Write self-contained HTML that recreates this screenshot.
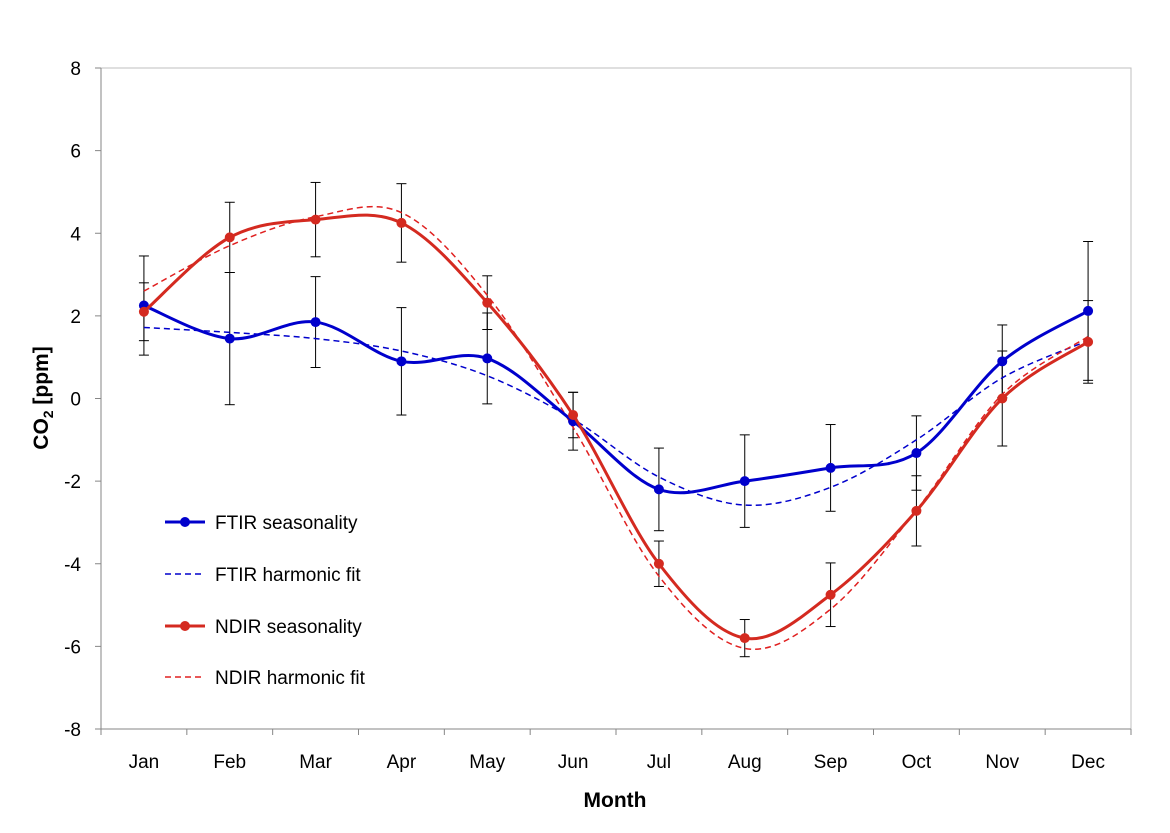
<!DOCTYPE html>
<html><head><meta charset="utf-8"><style>
body{margin:0;background:#fff;font-family:"Liberation Sans",Arial,sans-serif}
svg text{font-family:"Liberation Sans",Arial,sans-serif;fill:#000}
</style></head><body>
<svg id="chart" width="1170" height="828" viewBox="0 0 1170 828" xmlns="http://www.w3.org/2000/svg">
<rect x="101" y="68" width="1030" height="661" fill="#fff" stroke="#bfbfbf" stroke-width="1"/>
<g id="axes"></g>
<g id="series"></g>
<text x="615" y="807" font-size="21" font-weight="bold" text-anchor="middle">Month</text>
<text transform="translate(48,398) rotate(-90)" font-size="21" font-weight="bold" text-anchor="middle">CO<tspan font-size="14" dy="5">2</tspan><tspan dy="-5"> [ppm]</tspan></text>
</svg>
<script>
const months=["Jan","Feb","Mar","Apr","May","Jun","Jul","Aug","Sep","Oct","Nov","Dec"];
const yTicks=[-8,-6,-4,-2,0,2,4,6,8];
const ftir=[2.25,1.45,1.85,0.9,0.97,-0.55,-2.2,-2.0,-1.68,-1.32,0.9,2.12];
const ftirErr=[1.2,1.6,1.1,1.3,1.1,0.7,1.0,1.12,1.05,0.9,0.88,1.68];
const ftirFit=[1.72,1.6,1.45,1.15,0.55,-0.5,-1.9,-2.58,-2.15,-1.0,0.5,1.4];
const ndir=[2.1,3.9,4.33,4.25,2.32,-0.4,-4.0,-5.8,-4.75,-2.72,0.0,1.37];
const ndirErr=[0.7,0.85,0.9,0.95,0.65,0.55,0.55,0.45,0.77,0.85,1.15,1.0];
const ndirFit=[2.6,3.7,4.4,4.5,2.5,-0.7,-4.3,-6.05,-5.1,-2.7,0.1,1.5];

const NS="http://www.w3.org/2000/svg";
const L=101,R=1131,T=68,B=729;
const xs=i=>L+(R-L)/12*(i+0.5);
const ys=v=>B-(v+8)/16*(B-T);
function mk(tag,attrs,parent){const e=document.createElementNS(NS,tag);for(const k in attrs)e.setAttribute(k,attrs[k]);parent.appendChild(e);return e;}
const ax=document.getElementById('axes'),sg=document.getElementById('series');
mk('line',{x1:L,y1:T,x2:L,y2:B,stroke:'#868686'},ax);
mk('line',{x1:L,y1:B,x2:R,y2:B,stroke:'#868686'},ax);
yTicks.forEach(v=>{
 const y=ys(v);
 mk('line',{x1:L-6,y1:y,x2:L,y2:y,stroke:'#868686'},ax);
 const t=mk('text',{x:L-20,y:y+7,'font-size':19,'text-anchor':'end'},ax);
 
 
 t.textContent=v;
});
for(let i=0;i<=12;i++){const x=L+(R-L)/12*i;mk('line',{x1:x,y1:B,x2:x,y2:B+6,stroke:'#868686'},ax);}
months.forEach((m,i)=>{
 const t=mk('text',{x:xs(i),y:768,'font-size':19,'text-anchor':'middle'},ax);
 
 
 t.textContent=m;
});
function smooth(vals){
 const p=vals.map((v,i)=>[xs(i),ys(v)]);
 let d=`M${p[0][0]},${p[0][1]}`;
 for(let i=0;i<p.length-1;i++){
  const p0=p[Math.max(i-1,0)],p1=p[i],p2=p[i+1],p3=p[Math.min(i+2,p.length-1)];
  const c1=[p1[0]+(p2[0]-p0[0])/6,p1[1]+(p2[1]-p0[1])/6];
  const c2=[p2[0]-(p3[0]-p1[0])/6,p2[1]-(p3[1]-p1[1])/6];
  d+=`C${c1[0]},${c1[1]} ${c2[0]},${c2[1]} ${p2[0]},${p2[1]}`;
 }
 return d;
}
function errs(vals,err,name){
 vals.forEach((v,i)=>{
  const g=mk('g',{stroke:'#000','stroke-width':1},sg);
  
  
  const x=xs(i),y1=ys(v+err[i]),y2=ys(v-err[i]);
  mk('line',{x1:x,y1:y1,x2:x,y2:y2},g);
  mk('line',{x1:x-5,y1:y1,x2:x+5,y2:y1},g);
  mk('line',{x1:x-5,y1:y2,x2:x+5,y2:y2},g);
 });
}
errs(ftir,ftirErr,'ftir-error-bar');
errs(ndir,ndirErr,'ndir-error-bar');
function line(vals,color,w,dash,name){
 const p=mk('path',{d:smooth(vals),fill:'none',stroke:color,'stroke-width':w},sg);
 if(dash)p.setAttribute('stroke-dasharray',dash);
 
 
}
function pts(vals,color,name){
 vals.forEach((v,i)=>{
  const c=mk('circle',{cx:xs(i),cy:ys(v),r:5,fill:color},sg);
  
  
 });
}
line(ftirFit,'#0000cc',1.5,'6,4','ftir-harmonic-fit-line');
line(ndirFit,'#e02020',1.5,'6,4','ndir-harmonic-fit-line');
line(ftir,'#0000cc',3,null,'ftir-seasonality-line');
pts(ftir,'#0000cc','ftir-point');
line(ndir,'#d42a20',3,null,'ndir-seasonality-line');
pts(ndir,'#d42a20','ndir-point');
const legend=[["FTIR seasonality",'#0000cc',3,null,true,522],["FTIR harmonic fit",'#0000cc',1.5,'6,4',false,574],["NDIR seasonality",'#d42a20',3,null,true,626],["NDIR harmonic fit",'#e02020',1.5,'6,4',false,677]];
const lg=mk('g',{},document.getElementById('chart'));


legend.forEach(e=>{
 const g=mk('g',{},lg);
 
 
 const l=mk('line',{x1:165,y1:e[5],x2:205,y2:e[5],stroke:e[1],'stroke-width':e[2]},g);
 if(e[3])l.setAttribute('stroke-dasharray',e[3]);
 if(e[4])mk('circle',{cx:185,cy:e[5],r:5,fill:e[1]},g);
 const t=mk('text',{x:215,y:e[5]+7,'font-size':19},g);
 t.textContent=e[0];
});
</script>
</body></html>
